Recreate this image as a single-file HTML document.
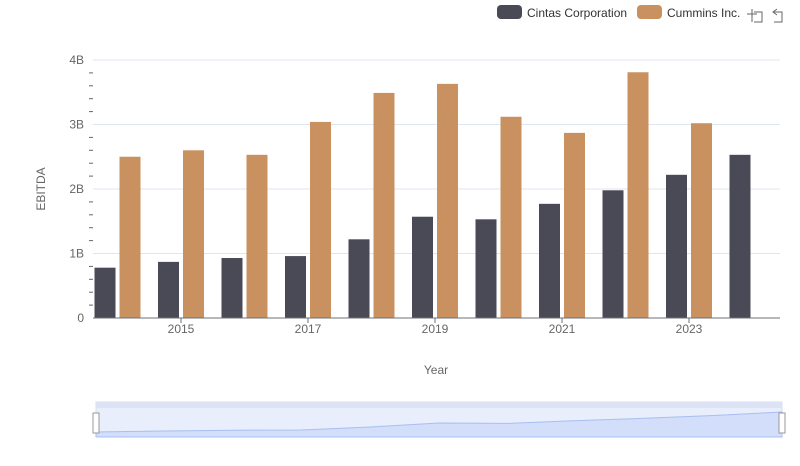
<!DOCTYPE html>
<html><head><meta charset="utf-8"><style>
body{margin:0;background:#fff;font-family:"Liberation Sans",sans-serif;}
</style></head><body>
<svg width="800" height="461" xmlns="http://www.w3.org/2000/svg" font-family="Liberation Sans, sans-serif">
<g>
 <g><rect x="497" y="5" width="25" height="14" rx="4" fill="#4a4a56"/><text x="527" y="17" font-size="12" fill="#333">Cintas Corporation</text></g>
 <g><rect x="637" y="5" width="25" height="14" rx="4" fill="#c8915f"/><text x="667" y="17" font-size="12" fill="#333">Cummins Inc.</text></g>
 <g stroke="#666" fill="none"><path d="M752 9v13M747 14h10M754 12h8v10h-8"/></g>
 <g stroke="#666" fill="none"><path d="M777 9l-4 3 4 3M774 12h8v10h-8"/></g>
</g>
<g id="grid"></g>
<g id="bars"></g>
<g id="axes"></g>
<text x="45" y="189" font-size="12" fill="#666" text-anchor="middle" transform="rotate(-90 45 189)">EBITDA</text>
<text x="436" y="374" font-size="12" fill="#666" text-anchor="middle">Year</text>
<g>
 <rect x="96" y="402" width="686" height="35" fill="#e8eefc" stroke="#d5dcec"/>
 <rect x="96" y="402" width="686" height="6" fill="#dbe3f4"/>
 <path id="dzArea" fill="#d2defa" stroke="#a9bff0" stroke-width="1"/>
 <rect x="93" y="413" width="6" height="20" fill="#fff" stroke="#999"/>
 <rect x="779" y="413" width="6" height="20" fill="#fff" stroke="#999"/>
</g>
</svg>
<script>
const years=[2014,2015,2016,2017,2018,2019,2020,2021,2022,2023,2024];
const cintas=[0.78,0.87,0.93,0.96,1.22,1.57,1.53,1.77,1.98,2.22,2.53];
const cummins=[2.5,2.6,2.53,3.04,3.49,3.63,3.12,2.87,3.81,3.02,0];
const yTicks=[0,1,2,3,4];
const yTickLabels=["0","1B","2B","3B","4B"];
const xTickYears=[2015,2017,2019,2021,2023];
const NS="http://www.w3.org/2000/svg";
const xs=y=>181+(y-2015)*63.5;
const ys=v=>318-v*64.5;
function mk(t,a,p){const e=document.createElementNS(NS,t);for(const k in a)e.setAttribute(k,a[k]);p.appendChild(e);return e;}
const g=document.getElementById('grid'),b=document.getElementById('bars'),ax=document.getElementById('axes');
yTicks.forEach((v,i)=>{
 if(v>0){const l=mk('line',{x1:93,x2:780,y1:ys(v),y2:ys(v),stroke:'#e0e6f1'},g);}
 const t=mk('text',{x:84,y:ys(v)+4,'font-size':12,fill:'#666','text-anchor':'end'},ax);t.textContent=yTickLabels[i];
 
 if(i<yTicks.length-1)for(let k=1;k<5;k++){mk('line',{x1:89,x2:93,y1:ys(v+k*0.2),y2:ys(v+k*0.2),stroke:'#666'},ax);}
});
years.forEach((y,i)=>{
 const c=xs(y);
 const r1=mk('rect',{x:c-23,y:ys(cintas[i]),width:21,height:ys(0)-ys(cintas[i]),fill:'#4a4a56'},b);
 
 if(cummins[i]>0){const r2=mk('rect',{x:c+2,y:ys(cummins[i]),width:21,height:ys(0)-ys(cummins[i]),fill:'#c8915f'},b);
 }
});
mk('line',{x1:93,x2:780,y1:318,y2:318,stroke:'#6e7079'},ax);
xTickYears.forEach(y=>{mk('line',{x1:xs(y),x2:xs(y),y1:318,y2:323,stroke:'#6e7079'},ax);
 const t=mk('text',{x:xs(y),y:333,'font-size':12,fill:'#666','text-anchor':'middle'},ax);t.textContent=y;
 });
const mn=Math.min(...cintas),mx=Math.max(...cintas);
let d='M96 437';years.forEach((y,i)=>{const x=96+i*686/(years.length-1);d+=' L'+x+' '+(432-(cintas[i]-mn)/(mx-mn||1)*20);});
d+=' L782 437 Z';document.getElementById('dzArea').setAttribute('d',d);
</script>
</body></html>
